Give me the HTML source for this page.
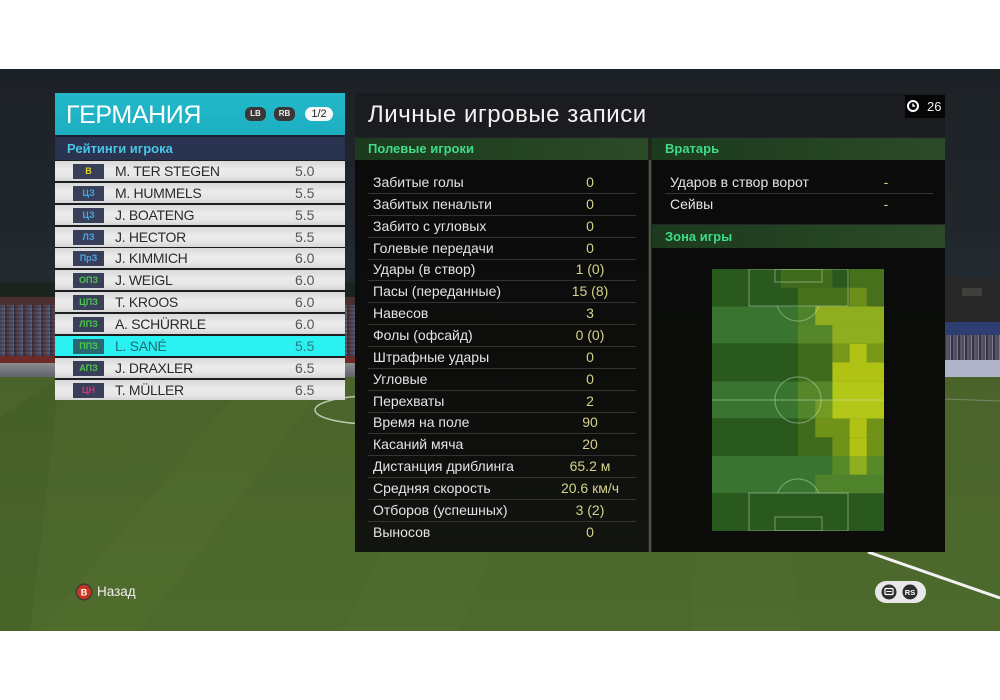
<!DOCTYPE html>
<html><head><meta charset="utf-8">
<style>
*{margin:0;padding:0;box-sizing:border-box}
body{width:1000px;height:700px;background:#fff;position:relative;overflow:hidden;font-family:"Liberation Sans","DejaVu Sans",sans-serif}
.a{position:absolute}
.row{position:absolute;left:55px;width:290px;height:20px;background:linear-gradient(#d9d9d9,#ececec 45%,#e4e4e4 80%,#d4d4d4)}
.row .b{position:absolute;left:18px;top:3px;width:31px;height:15px;background:#383f58;font-size:9px;font-weight:bold;line-height:15px;text-align:center}
.row .n{position:absolute;left:60px;top:0;line-height:20px;font-size:14px;letter-spacing:-0.3px;color:#2a2a2a}
.row .r{position:absolute;left:240px;top:0;line-height:20px;font-size:14px;color:#555}
.st{position:absolute;left:373px;font-size:14px;color:#e4e4e4;height:20px;line-height:20px;white-space:nowrap}
.sv{position:absolute;left:530px;width:120px;text-align:center;font-size:14px;color:#d6d28a;height:20px;line-height:20px;white-space:nowrap}
.sep{position:absolute;left:368px;width:268px;height:1px;background:#343532}
.gh{position:absolute;height:22px;background:linear-gradient(90deg,#1c3a1e,#254423 60%,#2c4a26);color:#3edc88;font-weight:bold;font-size:13px;line-height:22px;padding-left:13px}
</style></head><body>

<!-- game background -->
<div class="a" style="left:0;top:69px;width:1000px;height:562px;background:linear-gradient(#1d2227,#20262b 150px,#222a30 210px,#1f282c 240px);"></div>

<!-- stadium left -->
<div class="a" style="left:0;top:283px;width:360px;height:14px;background:#1b231e"></div>
<div class="a" style="left:0;top:297px;width:360px;height:8px;background:#4a2e30"></div>
<div class="a" style="left:0;top:305px;width:360px;height:51px;background:repeating-linear-gradient(90deg,#5a4a58 0 2px,#465a80 2px 4px,#6a6070 4px 5px,#3a3644 5px 7px,#5e3e44 7px 9px)"></div>
<div class="a" style="left:0;top:305px;width:360px;height:51px;background:repeating-linear-gradient(0deg,rgba(20,20,30,0.25) 0 2px,rgba(0,0,0,0) 2px 4px)"></div>
<div class="a" style="left:0;top:356px;width:360px;height:7px;background:#6e2a26"></div>
<div class="a" style="left:0;top:363px;width:360px;height:15px;background:linear-gradient(#8a8c92,#5e6066)"></div>

<!-- stadium right -->
<div class="a" style="left:640px;top:278px;width:360px;height:44px;background:#272827"></div>
<div class="a" style="left:962px;top:288px;width:20px;height:8px;background:#3e3e3a"></div>
<div class="a" style="left:640px;top:322px;width:360px;height:13px;background:linear-gradient(90deg,#2e3e72 0,#2e3e72 968px,#8e5a22 970px,#9a6226)"></div>
<div class="a" style="left:640px;top:335px;width:360px;height:25px;background:repeating-linear-gradient(90deg,#4e4e62 0 2px,#7e7c8c 2px 3px,#343442 3px 5px,#5a5668 5px 7px)"></div>
<div class="a" style="left:640px;top:360px;width:360px;height:18px;background:linear-gradient(90deg,#b0b4c8 0,#b0b4c8 978px,#2a5290 979px)"></div>

<!-- grass -->
<svg class="a" style="left:0;top:377px" width="1000" height="254">
<defs><linearGradient id="g" x1="0" y1="0" x2="0" y2="1"><stop offset="0" stop-color="#4a632b"/><stop offset="1" stop-color="#4d6a2c"/></linearGradient></defs>
<rect width="1000" height="254" fill="url(#g)"/>
<polygon points="250,0 330,0 140,254 40,254" fill="#5a7634" opacity="0.22"/>
<polygon points="480,0 560,0 460,254 340,254" fill="#5a7634" opacity="0.18"/>
<polygon points="700,0 780,0 800,254 690,254" fill="#5a7634" opacity="0.15"/>
<polygon points="0,40 0,254 30,254 60,0" fill="#3e5a24" opacity="0.3"/>
<ellipse cx="372" cy="33" rx="57" ry="14" fill="none" stroke="#e0e8d8" stroke-width="1.5" opacity="0.75"/>
<line x1="945" y1="22" x2="1000" y2="24" stroke="#dde" stroke-width="1" opacity="0.3"/>
<line x1="868" y1="175" x2="1000" y2="221" stroke="#f2f2f2" stroke-width="3"/>
</svg>

<!-- LEFT PANEL -->
<div class="a" style="left:55px;top:93px;width:290px;height:42px;background:linear-gradient(#22b8ca,#1cafc1)"></div>
<div class="a" style="left:66px;top:97px;font-size:25px;color:#fff;letter-spacing:-0.4px;line-height:36px">ГЕРМАНИЯ</div>
<div class="a" style="left:245px;top:107px;width:21px;height:14px;border-radius:6px;background:#3a3836;color:#eee;font-size:8px;font-weight:bold;text-align:center;line-height:14px">LB</div>
<div class="a" style="left:274px;top:107px;width:21px;height:14px;border-radius:6px;background:#3a3836;color:#eee;font-size:8px;font-weight:bold;text-align:center;line-height:14px">RB</div>
<div class="a" style="left:305px;top:107px;width:28px;height:14px;border-radius:7px;background:#f8f8f8;color:#222;font-size:11px;text-align:center;line-height:14px">1/2</div>
<div class="a" style="left:55px;top:135px;width:290px;height:2px;background:#1a2030"></div>
<div class="a" style="left:55px;top:137px;width:290px;height:23px;background:#2a3350;color:#48c6e6;font-weight:bold;font-size:13px;line-height:23px;padding-left:12px">Рейтинги игрока</div>
<div class="a" style="left:55px;top:160px;width:290px;height:240px;background:#1c1e22"></div>

<div class="row" style="top:161px"><div class="b" style="color:#e8d22a">В</div><div class="n">M. TER STEGEN</div><div class="r">5.0</div></div>
<div class="row" style="top:182.9px"><div class="b" style="color:#4aa4e4">ЦЗ</div><div class="n">M. HUMMELS</div><div class="r">5.5</div></div>
<div class="row" style="top:204.7px"><div class="b" style="color:#4aa4e4">ЦЗ</div><div class="n">J. BOATENG</div><div class="r">5.5</div></div>
<div class="row" style="top:226.6px"><div class="b" style="color:#4aa4e4">ЛЗ</div><div class="n">J. HECTOR</div><div class="r">5.5</div></div>
<div class="row" style="top:248.4px"><div class="b" style="color:#4aa4e4">ПрЗ</div><div class="n">J. KIMMICH</div><div class="r">6.0</div></div>
<div class="row" style="top:270.3px"><div class="b" style="color:#4cc84c">ОПЗ</div><div class="n">J. WEIGL</div><div class="r">6.0</div></div>
<div class="row" style="top:292.1px"><div class="b" style="color:#4cc84c">ЦПЗ</div><div class="n">T. KROOS</div><div class="r">6.0</div></div>
<div class="row" style="top:314px"><div class="b" style="color:#4cc84c">ЛПЗ</div><div class="n">A. SCHÜRRLE</div><div class="r">6.0</div></div>
<div class="row" style="top:335.8px;background:#2af2f2"><div class="b" style="color:#4cc84c;background:#2a6670">ППЗ</div><div class="n" style="color:#276a74">L. SANÉ</div><div class="r" style="color:#2f7a82">5.5</div></div>
<div class="row" style="top:357.7px"><div class="b" style="color:#4cc84c">АПЗ</div><div class="n">J. DRAXLER</div><div class="r">6.5</div></div>
<div class="row" style="top:379.5px"><div class="b" style="color:#e0307c">ЦН</div><div class="n">T. MÜLLER</div><div class="r">6.5</div></div>

<!-- MIDDLE / RIGHT PANELS -->
<div class="a" style="left:355px;top:93px;width:590px;height:44px;background:#1a1c1f"></div>
<div class="a" style="left:368px;top:99px;font-size:24px;color:#f2f2f2;letter-spacing:0.55px;line-height:32px;white-space:nowrap">Личные игровые записи</div>
<div class="a" style="left:905px;top:95px;width:40px;height:23px;background:#060606"></div>
<svg class="a" style="left:906px;top:99px" width="14" height="14"><circle cx="7" cy="7" r="5" fill="none" stroke="#fff" stroke-width="2"/><path d="M7 4.5V7H9" stroke="#fff" stroke-width="1.4" fill="none"/></svg>
<div class="a" style="left:927px;top:97px;font-size:13px;color:#eee;line-height:19px">26</div>

<div class="gh" style="left:355px;top:138px;width:293px">Полевые игроки</div>
<div class="gh" style="left:652px;top:138px;width:293px">Вратарь</div>
<div class="a" style="left:648px;top:138px;width:4px;height:414px;background:#22261f"></div>
<div class="a" style="left:649px;top:160px;width:2px;height:392px;background:#4c5244"></div>

<div class="a" style="left:355px;top:160px;width:293px;height:392px;background:linear-gradient(#0b0b0b,#0e0f0d 70%,#131511)"></div>
<div class="a" style="left:652px;top:160px;width:293px;height:64px;background:#0b0b0b"></div>
<div class="gh" style="left:652px;top:225px;width:293px;height:23px;line-height:23px">Зона игры</div>
<div class="a" style="left:652px;top:248px;width:293px;height:304px;background:linear-gradient(#0a0b0a,#0c0d0a)"></div>

<!-- stats -->
<div class="st" style="top:172px">Забитые голы</div><div class="sv" style="top:172px">0</div>
<div class="st" style="top:193.9px">Забитых пенальти</div><div class="sv" style="top:193.9px">0</div>
<div class="st" style="top:215.7px">Забито с угловых</div><div class="sv" style="top:215.7px">0</div>
<div class="st" style="top:237.6px">Голевые передачи</div><div class="sv" style="top:237.6px">0</div>
<div class="st" style="top:259.4px">Удары (в створ)</div><div class="sv" style="top:259.4px">1 (0)</div>
<div class="st" style="top:281.3px">Пасы (переданные)</div><div class="sv" style="top:281.3px">15 (8)</div>
<div class="st" style="top:303.1px">Навесов</div><div class="sv" style="top:303.1px">3</div>
<div class="st" style="top:325px">Фолы (офсайд)</div><div class="sv" style="top:325px">0 (0)</div>
<div class="st" style="top:346.8px">Штрафные удары</div><div class="sv" style="top:346.8px">0</div>
<div class="st" style="top:368.7px">Угловые</div><div class="sv" style="top:368.7px">0</div>
<div class="st" style="top:390.5px">Перехваты</div><div class="sv" style="top:390.5px">2</div>
<div class="st" style="top:412.4px">Время на поле</div><div class="sv" style="top:412.4px">90</div>
<div class="st" style="top:434.2px">Касаний мяча</div><div class="sv" style="top:434.2px">20</div>
<div class="st" style="top:456.1px">Дистанция дриблинга</div><div class="sv" style="top:456.1px">65.2 м</div>
<div class="st" style="top:477.9px">Средняя скорость</div><div class="sv" style="top:477.9px">20.6 км/ч</div>
<div class="st" style="top:499.8px">Отборов (успешных)</div><div class="sv" style="top:499.8px">3 (2)</div>
<div class="st" style="top:521.6px">Выносов</div><div class="sv" style="top:521.6px">0</div>

<div class="sep" style="top:193px"></div><div class="sep" style="top:214.9px"></div><div class="sep" style="top:236.7px"></div><div class="sep" style="top:258.6px"></div>
<div class="sep" style="top:280.4px"></div><div class="sep" style="top:302.3px"></div><div class="sep" style="top:324.1px"></div><div class="sep" style="top:346px"></div>
<div class="sep" style="top:367.8px"></div><div class="sep" style="top:389.7px"></div><div class="sep" style="top:411.5px"></div><div class="sep" style="top:433.4px"></div>
<div class="sep" style="top:455.2px"></div><div class="sep" style="top:477.1px"></div><div class="sep" style="top:498.9px"></div><div class="sep" style="top:520.8px"></div>

<!-- goalkeeper -->
<div class="st" style="left:670px;top:172px">Ударов в створ ворот</div><div class="sv" style="left:826px;top:172px">-</div>
<div class="sep" style="left:665px;top:193px"></div>
<div class="st" style="left:670px;top:193.9px">Сейвы</div><div class="sv" style="left:826px;top:193.9px">-</div>

<!-- heatmap pitch -->
<svg class="a" style="left:712px;top:269px" width="172" height="262" viewBox="0 0 172 262">
<g>
<rect x="0" y="0" width="172" height="37.4" fill="#2a591e"/>
<rect x="0" y="37.4" width="172" height="37.4" fill="#397430"/>
<rect x="0" y="74.8" width="172" height="37.4" fill="#2a591e"/>
<rect x="0" y="112.2" width="172" height="37.4" fill="#397430"/>
<rect x="0" y="149.6" width="172" height="37.4" fill="#2a591e"/>
<rect x="0" y="187" width="172" height="37.4" fill="#397430"/>
<rect x="0" y="224.4" width="172" height="37.6" fill="#2a591e"/>
</g>
<g fill="#c8d614">
<rect x="68.8" y="0" width="51.6" height="18.7" opacity="0.15"/>
<rect x="137.6" y="0" width="34.4" height="18.7" opacity="0.18"/>
<rect x="86" y="18.7" width="51.6" height="18.7" opacity="0.18"/>
<rect x="137.6" y="18.7" width="17.2" height="18.7" opacity="0.42"/>
<rect x="154.8" y="18.7" width="17.2" height="18.7" opacity="0.18"/>
<rect x="86" y="37.4" width="17.2" height="18.7" opacity="0.15"/>
<rect x="103.2" y="37.4" width="68.8" height="18.7" opacity="0.6"/>
<rect x="86" y="56.1" width="34.4" height="18.7" opacity="0.2"/>
<rect x="120.4" y="56.1" width="51.6" height="18.7" opacity="0.6"/>
<rect x="86" y="74.8" width="34.4" height="18.7" opacity="0.15"/>
<rect x="120.4" y="74.8" width="17.2" height="18.7" opacity="0.5"/>
<rect x="137.6" y="74.8" width="17.2" height="18.7" opacity="0.85"/>
<rect x="154.8" y="74.8" width="17.2" height="18.7" opacity="0.5"/>
<rect x="86" y="93.5" width="34.4" height="18.7" opacity="0.15"/>
<rect x="120.4" y="93.5" width="51.6" height="18.7" opacity="0.85"/>
<rect x="86" y="112.2" width="34.4" height="18.7" opacity="0.2"/>
<rect x="120.4" y="112.2" width="51.6" height="18.7" opacity="0.85"/>
<rect x="86" y="130.9" width="17.2" height="18.7" opacity="0.18"/>
<rect x="103.2" y="130.9" width="17.2" height="18.7" opacity="0.4"/>
<rect x="120.4" y="130.9" width="51.6" height="18.7" opacity="0.85"/>
<rect x="86" y="149.6" width="17.2" height="18.7" opacity="0.15"/>
<rect x="103.2" y="149.6" width="34.4" height="18.7" opacity="0.45"/>
<rect x="137.6" y="149.6" width="17.2" height="18.7" opacity="0.85"/>
<rect x="154.8" y="149.6" width="17.2" height="18.7" opacity="0.45"/>
<rect x="86" y="168.3" width="34.4" height="18.7" opacity="0.15"/>
<rect x="120.4" y="168.3" width="17.2" height="18.7" opacity="0.45"/>
<rect x="137.6" y="168.3" width="17.2" height="18.7" opacity="0.85"/>
<rect x="154.8" y="168.3" width="17.2" height="18.7" opacity="0.45"/>
<rect x="120.4" y="187" width="17.2" height="18.7" opacity="0.22"/>
<rect x="137.6" y="187" width="17.2" height="18.7" opacity="0.6"/>
<rect x="154.8" y="187" width="17.2" height="18.7" opacity="0.22"/>
<rect x="103.2" y="205.7" width="68.8" height="18.7" opacity="0.15"/>
</g>
<g fill="none" stroke="#d8ecd0" stroke-opacity="0.38" stroke-width="1.2">
<line x1="0" y1="131" x2="172" y2="131"/>
<circle cx="86" cy="131" r="23"/>
<rect x="37" y="0" width="99" height="37"/>
<rect x="63" y="0" width="47" height="13"/>
<path d="M65.1,37 A22,22 0 0,0 106.9,37"/>
<rect x="37" y="224" width="99" height="38"/>
<rect x="63" y="248" width="47" height="14"/>
<path d="M65.5,224 A22,22 0 0,1 106.5,224"/>
</g>
</svg>

<!-- bottom controls -->
<svg class="a" style="left:75px;top:583px" width="18" height="18"><circle cx="9" cy="9" r="8.5" fill="#3a3a3a"/><circle cx="9" cy="9" r="7" fill="#c8361e"/><text x="9" y="12.5" font-size="9" font-weight="bold" fill="#fff" text-anchor="middle" font-family="Liberation Sans, sans-serif">B</text></svg>
<div class="a" style="left:97px;top:583px;font-size:13.5px;color:#f0f0f0;line-height:18px">Назад</div>

<div class="a" style="left:875px;top:581px;width:51px;height:22px;border-radius:11px;background:#e8e8e8"></div>
<svg class="a" style="left:880px;top:583px" width="42" height="18">
<circle cx="9" cy="9" r="7.5" fill="#2e2e2e"/>
<rect x="5" y="5.5" width="8" height="6" rx="1" fill="none" stroke="#fff" stroke-width="1.2"/>
<line x1="6.5" y1="8.5" x2="11.5" y2="8.5" stroke="#fff" stroke-width="1"/>
<circle cx="30" cy="9" r="7.5" fill="#2e2e2e"/>
<text x="30" y="12" font-size="7.5" font-weight="bold" fill="#fff" text-anchor="middle" font-family="Liberation Sans, sans-serif">RS</text>
</svg>

</body></html>
